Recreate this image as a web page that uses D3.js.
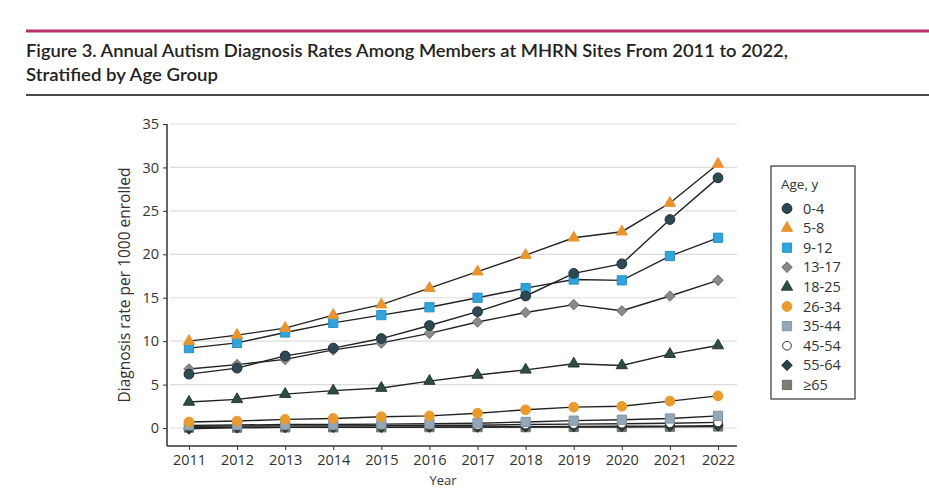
<!DOCTYPE html>
<html><head><meta charset="utf-8">
<script src="https://cdn.jsdelivr.net/npm/d3@7/dist/d3.min.js"></script>
<style>body{margin:0;background:#fff;}svg{display:block;}</style>
</head><body><svg id="c" width="929" height="490"></svg>
<script>
const years = [2011,2012,2013,2014,2015,2016,2017,2018,2019,2020,2021,2022];
const yTicks = [0,5,10,15,20,25,30,35];
const groups = ["0-4","5-8","9-12","13-17","18-25","26-34","35-44","45-54","55-64","≥65"];
const s0_4   = [6.2,6.9,8.3,9.2,10.3,11.8,13.4,15.2,17.8,18.9,24.0,28.8];
const s5_8   = [10.0,10.7,11.5,13.0,14.2,16.1,18.0,19.9,21.9,22.6,25.9,30.4];
const s9_12  = [9.2,9.8,11.0,12.1,13.0,13.9,15.0,16.1,17.1,17.0,19.8,21.9];
const s13_17 = [6.8,7.3,7.9,9.0,9.8,10.9,12.2,13.3,14.2,13.5,15.2,17.0];
const s18_25 = [3.0,3.3,3.9,4.3,4.6,5.4,6.1,6.7,7.4,7.2,8.5,9.5];
const s26_34 = [0.7,0.8,1.0,1.1,1.3,1.4,1.7,2.1,2.4,2.5,3.1,3.7];
const s35_44 = [0.3,0.35,0.4,0.4,0.45,0.5,0.55,0.7,0.85,0.95,1.1,1.4];
const s45_54 = [0.2,0.22,0.25,0.25,0.28,0.3,0.32,0.4,0.45,0.5,0.55,0.65];
const s55_64 = [-0.1,0.05,0.08,0.1,0.1,0.12,0.12,0.15,0.18,0.2,0.22,0.28];
const s65    = [0.05,0.05,0.07,0.08,0.08,0.1,0.1,0.1,0.12,0.12,0.15,0.18];
const seriesVals = [s0_4,s5_8,s9_12,s13_17,s18_25,s26_34,s35_44,s45_54,s55_64,s65];

const styles = [
  {sym:d3.symbolCircle, fill:"#2d4a54", stroke:"#1c2f36", size:75, rot:0},
  {sym:d3.symbolTriangle, fill:"#e8952f", stroke:"#e8952f", size:55, rot:0},
  {sym:d3.symbolSquare, fill:"#33a3dc", stroke:"#2a8fc2", size:85, rot:0},
  {sym:d3.symbolSquare, fill:"#8a8a8a", stroke:"#777", size:52, rot:45},
  {sym:d3.symbolTriangle, fill:"#2f4c43", stroke:"#233a33", size:55, rot:0},
  {sym:d3.symbolCircle, fill:"#e99c2e", stroke:"#e99c2e", size:75, rot:0},
  {sym:d3.symbolSquare, fill:"#92a8b8", stroke:"#7f95a5", size:85, rot:0},
  {sym:d3.symbolCircle, fill:"#ffffff", stroke:"#333", size:60, rot:0},
  {sym:d3.symbolSquare, fill:"#2b4246", stroke:"#1e3033", size:52, rot:45},
  {sym:d3.symbolSquare, fill:"#7e7c74", stroke:"#6d6b64", size:85, rot:0}
];

const svg = d3.select("#c");
const font = "'Open Sans', 'DejaVu Sans', sans-serif";

// header rules
svg.append("rect").attr("x",26).attr("y",29.5).attr("width",903).attr("height",3).attr("fill","#b3306c");
svg.append("rect").attr("x",26).attr("y",94).attr("width",903).attr("height",2).attr("fill","#4a4a4a");
svg.append("text").attr("x",26).attr("y",57).attr("font-family","Lato, 'Open Sans', sans-serif")
  .attr("font-size",18).attr("font-weight",600).attr("fill","#222")
  .attr("textLength",762).attr("lengthAdjust","spacingAndGlyphs")
  .text("Figure 3. Annual Autism Diagnosis Rates Among Members at MHRN Sites From 2011 to 2022,");
svg.append("text").attr("x",26).attr("y",81).attr("font-family","Lato, 'Open Sans', sans-serif")
  .attr("font-size",18).attr("font-weight",600).attr("fill","#222")
  .attr("textLength",192).attr("lengthAdjust","spacingAndGlyphs")
  .text("Stratified by Age Group");

const x = d3.scaleLinear().domain([2010.543, 2022.395]).range([167, 737]);
const y = d3.scaleLinear().domain([-2.07, 35]).range([446, 124]);

// grid
svg.append("g").selectAll("line").data(yTicks).join("line")
  .attr("x1",170).attr("x2",737).attr("y1",d=>y(d)).attr("y2",d=>y(d))
  .attr("stroke","#dcdcdc").attr("stroke-width",1.2);

// axes
const yAxis = svg.append("g").attr("transform","translate(167,0)")
  .call(d3.axisLeft(y).tickValues(yTicks).tickSize(4).tickPadding(4));
yAxis.select(".domain").attr("d",`M0,${y(35)}V446`).attr("stroke","#333").attr("stroke-width",1.5);
yAxis.selectAll(".tick line").attr("stroke","#333");
yAxis.selectAll("text").attr("font-family",font).attr("font-size",14.5).attr("fill","#333");

const xAxis = svg.append("g").attr("transform","translate(0,446)")
  .call(d3.axisBottom(x).tickValues(years).tickFormat(d3.format("d")).tickSize(4).tickPadding(5));
xAxis.select(".domain").attr("d","M167,0H737").attr("stroke","#333").attr("stroke-width",1.5);
xAxis.selectAll(".tick line").attr("stroke","#333");
xAxis.selectAll("text").attr("font-family",font).attr("font-size",14.5).attr("fill","#333");

svg.append("text").attr("transform",`translate(130,${(y(35)+446)/2}) rotate(-90)`)
  .attr("text-anchor","middle").attr("font-family",font).attr("font-size",15.5).attr("fill","#333")
  .text("Diagnosis rate per 1000 enrolled");
svg.append("text").attr("x",443).attr("y",485).attr("text-anchor","middle")
  .attr("font-family",font).attr("font-size",13).attr("fill","#333").text("Year");

// lines (draw from lowest to highest)
const line = d3.line().x((d,i)=>x(years[i])).y(d=>y(d));
const order = d3.range(groups.length).reverse();
svg.append("g").selectAll("path").data(order).join("path")
  .attr("d",k=>line(seriesVals[k])).attr("fill","none").attr("stroke","#222").attr("stroke-width",1.4);

order.forEach(k=>{
  const st = styles[k];
  svg.append("g").selectAll("path").data(seriesVals[k]).join("path")
    .attr("transform",(d,i)=>`translate(${x(years[i])},${y(d)}) rotate(${st.rot})`)
    .attr("d",d3.symbol().type(st.sym).size(st.size))
    .attr("fill",st.fill).attr("stroke",st.stroke).attr("stroke-width",1);
});

// legend
const lg = svg.append("g");
lg.append("rect").attr("x",771).attr("y",166).attr("width",84).attr("height",233)
  .attr("fill","#fff").attr("stroke","#444").attr("stroke-width",1.3);
lg.append("text").attr("x",781).attr("y",189).attr("font-family",font).attr("font-size",13.5).attr("fill","#333").text("Age, y");
groups.forEach((g,k)=>{
  const yy = 208.5 + k*19.6;
  const st = styles[k];
  lg.append("path").attr("transform",`translate(787,${yy}) rotate(${st.rot})`)
    .attr("d",d3.symbol().type(st.sym).size(st.size)).attr("fill",st.fill).attr("stroke",st.stroke).attr("stroke-width",1);
  lg.append("text").attr("x",803).attr("y",yy+5).attr("font-family",font).attr("font-size",14.5).attr("fill","#333").text(g);
});
</script></body></html>
